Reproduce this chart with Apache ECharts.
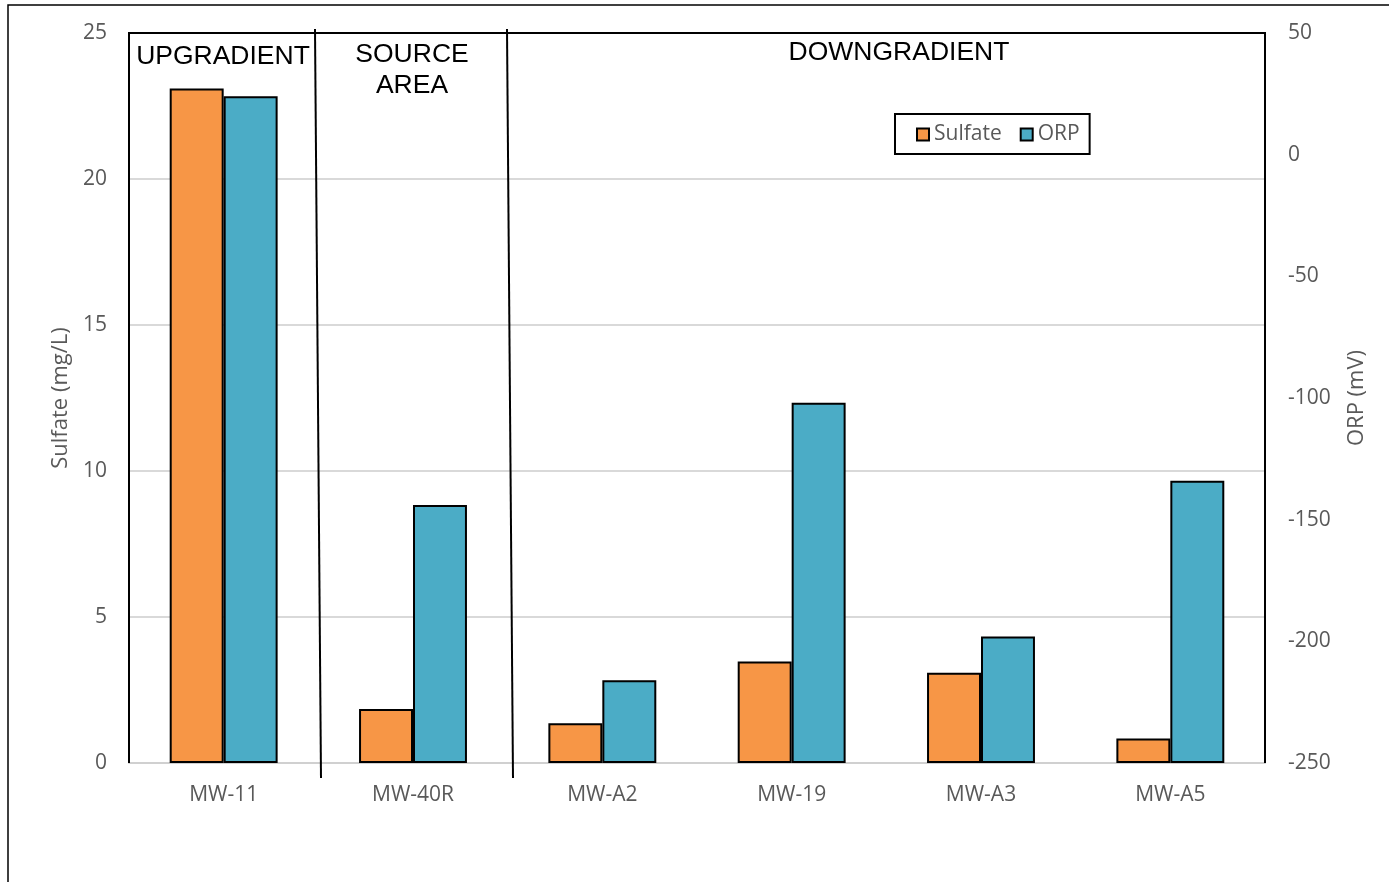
<!DOCTYPE html>
<html>
<head>
<meta charset="utf-8">
<script src="https://cdn.jsdelivr.net/npm/echarts@6/dist/echarts.min.js"></script>
<style>
  html, body { margin: 0; padding: 0; background: #fff; }
  #chart { width: 1389px; height: 882px; }
</style>
</head>
<body>
<div id="chart"></div>
<script>
// Monitoring wells, grouped upgradient / source area / downgradient
const wells = ['MW-11', 'MW-40R', 'MW-A2', 'MW-19', 'MW-A3', 'MW-A5'];
// Sulfate concentration (mg/L)
const sulfate = [23.1, 1.85, 1.36, 3.48, 3.09, 0.84];
// Oxidation-reduction potential (mV)
const orp = [24, -144, -216, -102, -198, -134];

const zoneLabels = ['UPGRADIENT', 'SOURCE\nAREA', 'DOWNGRADIENT'];

// ORP axis range; its bars rise from the axis floor rather than from zero
const orpMin = -250;
const orpMax = 50;

const tickColor = '#595959';
const tickFont = 'Open Sans';
const tickSize = 21;

const chart = echarts.init(document.getElementById('chart'), null, { renderer: 'canvas' });

const option = {
  backgroundColor: '#fff',
  animation: false,
  grid: { left: 129, right: 124, top: 33, bottom: 119, containLabel: false, outerBoundsMode: 'none' },
  legend: {
    data: ['Sulfate', 'ORP'],
    left: 895,
    top: 114,
    orient: 'horizontal',
    padding: [10, 10, 9, 21],
    itemGap: 18,
    itemWidth: 12,
    itemHeight: 12,
    itemStyle: { borderColor: '#000', borderWidth: 2 },
    borderColor: '#000',
    borderWidth: 2,
    textStyle: { color: tickColor, fontFamily: tickFont, fontSize: tickSize },
    icon: 'rect'
  },
  xAxis: {
    type: 'category',
    data: wells,
    axisTick: { show: false },
    axisLine: { show: true, lineStyle: { color: '#d0d0d0', width: 2 } },
    axisLabel: { color: tickColor, fontFamily: tickFont, fontSize: tickSize, margin: 22 },
    splitLine: { show: false }
  },
  yAxis: [
    {
      type: 'value',
      min: 0, max: 25, interval: 5,
      name: 'Sulfate (mg/L)',
      nameLocation: 'middle',
      nameRotate: 90,
      nameGap: 56,
      nameTextStyle: { color: tickColor, fontFamily: tickFont, fontSize: 22 },
      axisLine: { show: false },
      axisTick: { show: false },
      axisLabel: { color: tickColor, fontFamily: tickFont, fontSize: tickSize, margin: 22, padding: [4, 0, 0, 0] },
      splitLine: { show: true, lineStyle: { color: '#d9d9d9', width: 2 } }
    },
    {
      type: 'value',
      min: orpMin, max: orpMax, interval: 50,
      name: 'ORP (mV)',
      nameLocation: 'middle',
      nameRotate: 90,
      nameGap: 81,
      nameTextStyle: { color: tickColor, fontFamily: tickFont, fontSize: 22 },
      axisLine: { show: false },
      axisTick: { show: false },
      axisLabel: { color: tickColor, fontFamily: tickFont, fontSize: tickSize, margin: 23, padding: [4, 0, 0, 0] },
      splitLine: { show: false }
    }
  ],
  series: [
    {
      name: 'Sulfate',
      type: 'bar',
      yAxisIndex: 0,
      data: sulfate,
      barGap: '0%',
      barCategoryGap: '43%',
      itemStyle: { color: '#F79646', borderColor: '#000', borderWidth: 2 }
    },
    {
      // invisible base lifting the ORP bars down to the axis floor
      name: 'ORP base',
      type: 'bar',
      yAxisIndex: 1,
      stack: 'orp',
      stackStrategy: 'all',
      data: wells.map(() => orpMin),
      barGap: '0%',
      barCategoryGap: '43%',
      silent: true,
      itemStyle: { color: 'rgba(0,0,0,0)', borderWidth: 0 }
    },
    {
      name: 'ORP',
      type: 'bar',
      yAxisIndex: 1,
      stack: 'orp',
      stackStrategy: 'all',
      data: orp.map(v => v - orpMin),
      barGap: '0%',
      barCategoryGap: '43%',
      itemStyle: { color: '#4BACC6', borderColor: '#000', borderWidth: 2 }
    }
  ],
  graphic: [
    // outer chart frame
    { type: 'polyline', silent: true, shape: { points: [[8, 882], [8, 5], [1389, 5]] },
      style: { stroke: '#000', lineWidth: 1.5, fill: null } },
    // plot area border
    { type: 'polyline', silent: true, z: 5, shape: { points: [[129, 763], [129, 33], [1265, 33], [1265, 763]] },
      style: { stroke: '#000', lineWidth: 2, fill: null } },
    // zone separators
    { type: 'line', silent: true, z: 6, shape: { x1: 315, y1: 29, x2: 321, y2: 778 },
      style: { stroke: '#000', lineWidth: 2 } },
    { type: 'line', silent: true, z: 6, shape: { x1: 507, y1: 29, x2: 513, y2: 778 },
      style: { stroke: '#000', lineWidth: 2 } },
    // zone titles
    { type: 'text', silent: true, z: 6, x: 223, y: 57,
      style: { text: zoneLabels[0], fill: '#000', font: '26.5px "Liberation Sans", Arial, sans-serif', textAlign: 'center', textVerticalAlign: 'middle' } },
    { type: 'text', silent: true, z: 6, x: 412, y: 70,
      style: { text: zoneLabels[1], fill: '#000', font: '26.5px "Liberation Sans", Arial, sans-serif', textAlign: 'center', textVerticalAlign: 'middle', lineHeight: 31 } },
    { type: 'text', silent: true, z: 6, x: 899, y: 53,
      style: { text: zoneLabels[2], fill: '#000', font: '26.5px "Liberation Sans", Arial, sans-serif', textAlign: 'center', textVerticalAlign: 'middle' } }
  ]
};

chart.setOption(option);
</script>
</body>
</html>
